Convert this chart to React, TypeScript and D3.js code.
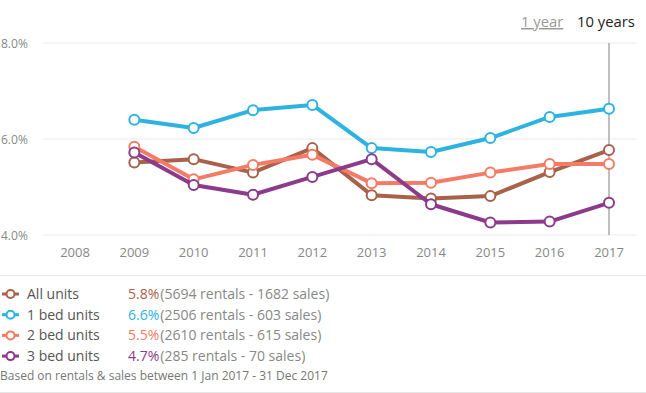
import React from "react";
import * as d3 from "d3";

const years = [2009, 2010, 2011, 2012, 2013, 2014, 2015, 2016, 2017];
const axisYears = [2008, 2009, 2010, 2011, 2012, 2013, 2014, 2015, 2016, 2017];
const yTicks = [4, 6, 8];

const allUnits = [5.51, 5.58, 5.3, 5.81, 4.83, 4.76, 4.81, 5.31, 5.77];
const oneBed = [6.4, 6.23, 6.6, 6.71, 5.81, 5.73, 6.02, 6.46, 6.63];
const twoBed = [5.84, 5.16, 5.46, 5.67, 5.08, 5.09, 5.3, 5.48, 5.48];
const threeBed = [5.72, 5.04, 4.84, 5.21, 5.58, 4.64, 4.26, 4.28, 4.67];

const seriesNames = ["All units", "1 bed units", "2 bed units", "3 bed units"];
const seriesColors = ["#a8614a", "#2db3e0", "#f47b65", "#8c3a8c"];
const seriesValues = [allUnits, oneBed, twoBed, threeBed];
const legendPct = ["5.8%", "6.6%", "5.5%", "4.7%"];
const legendDetail = [
  "(5694 rentals - 1682 sales)",
  "(2506 rentals - 603 sales)",
  "(2610 rentals - 615 sales)",
  "(285 rentals - 70 sales)",
];
const footnote = "Based on rentals & sales between 1 Jan 2017 - 31 Dec 2017";

const W = 646;
const H = 393;
const FONT = "'Open Sans', Lato, sans-serif";

export default function App() {
  const x = d3.scalePoint<number>().domain(axisYears).range([75, 609]);
  const y = d3.scaleLinear().domain([4, 8]).range([235, 43]);
  const line = d3
    .line<number>()
    .x((_, i) => x(years[i]) as number)
    .y((d) => y(d));

  return (
    <div style={{ position: "absolute", left: 0, top: 0 }}>
      <svg width={W} height={H} style={{ display: "block", fontFamily: FONT }}>
        <rect width={W} height={H} fill="#fff" />
        {/* header toggles */}
        <text x={521} y={27} fontSize={14.8} fill="#999" textDecoration="underline">
          1 year
        </text>
        <text x={577} y={27} fontSize={14.8} fill="#222">
          10 years
        </text>
        {/* grid */}
        {yTicks.map((t) => (
          <g key={t}>
            <line x1={43} x2={636} y1={y(t)} y2={y(t)} stroke="#ebebeb" strokeWidth={1} />
            <text x={1} y={y(t) + 4.5} fontSize={12} fill="#888">
              {t.toFixed(1) + "%"}
            </text>
          </g>
        ))}
        {axisYears.map((yr) => (
          <text key={yr} x={x(yr)} y={257} fontSize={13} fill="#888" textAnchor="middle">
            {yr}
          </text>
        ))}
        {/* hover line */}
        <line x1={x(2017)} x2={x(2017)} y1={y(8)} y2={y(4)} stroke="#aaa" strokeWidth={1.5} />
        {/* series */}
        {seriesValues.map((vals, si) => (
          <g key={si}>
            <path d={line(vals) || ""} fill="none" stroke={seriesColors[si]} strokeWidth={4} strokeLinejoin="round" />
            {vals.map((v, i) => (
              <circle
                key={i}
                cx={x(years[i])}
                cy={y(v)}
                r={5}
                fill="#fff"
                stroke={seriesColors[si]}
                strokeWidth={2}
              />
            ))}
          </g>
        ))}
        {/* legend */}
        <line x1={0} x2={W} y1={275.5} y2={275.5} stroke="#e6e6e6" />
        {seriesNames.map((name, i) => {
          const cy = 294 + i * 20.7;
          return (
            <g key={name}>
              <line x1={2} x2={19} y1={cy} y2={cy} stroke={seriesColors[i]} strokeWidth={3} />
              <circle cx={10.5} cy={cy} r={4} fill="#fff" stroke={seriesColors[i]} strokeWidth={2} />
              <text x={27} y={cy + 5} fontSize={14} fill="#555">
                {name}
              </text>
              <text x={128} y={cy + 5} fontSize={14} fill={seriesColors[i]}>
                {legendPct[i]}
                <tspan fill="#888" dx={1}>{legendDetail[i]}</tspan>
              </text>
            </g>
          );
        })}
        <text x={0} y={380} fontSize={12} fill="#777">
          {footnote}
        </text>
        <line x1={0} x2={W} y1={392.5} y2={392.5} stroke="#e6e6e6" />
      </svg>
    </div>
  );
}
